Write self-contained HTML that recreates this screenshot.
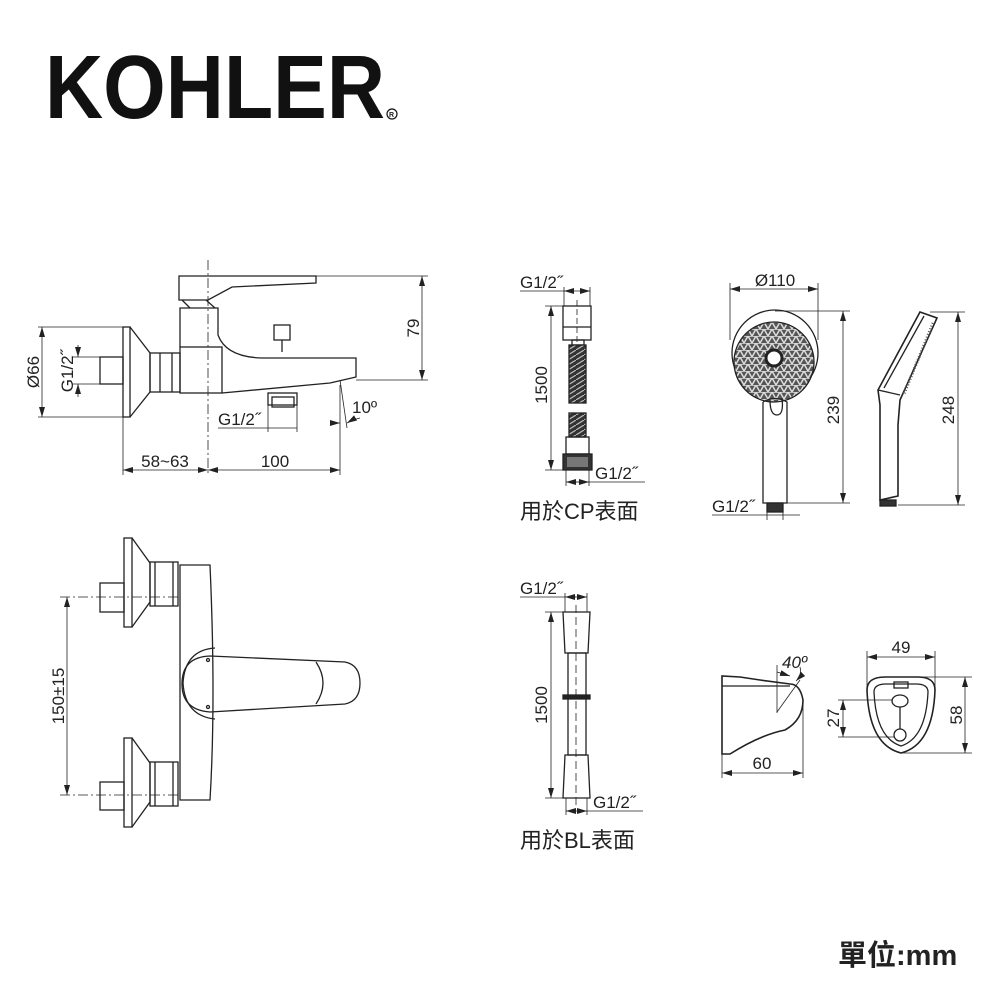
<!DOCTYPE html>
<html><head><meta charset="utf-8"><style>
html,body{margin:0;padding:0;background:#fff}
svg{display:block}
text{font-family:"Liberation Sans","Noto Sans CJK TC",sans-serif;fill:#222}
</style></head><body>
<svg width="1000" height="1000" viewBox="0 0 1000 1000" xmlns="http://www.w3.org/2000/svg">
<defs>
<marker id="a" markerWidth="10" markerHeight="6" refX="10" refY="3" orient="auto-start-reverse" markerUnits="userSpaceOnUse"><path d="M0,0 L10,3 L0,6 z" fill="#222"/></marker>
<pattern id="grid" width="8" height="7" patternUnits="userSpaceOnUse"><rect width="8" height="7" fill="#555"/><path d="M0,7 L4,0 L8,7 M0,0 L8,0" stroke="#ddd" stroke-width="1.5" fill="none"/></pattern>
<pattern id="coil" width="8" height="5" patternUnits="userSpaceOnUse"><rect width="8" height="5" fill="#333"/><path d="M0,5 L8,0" stroke="#bbb" stroke-width="1.2"/></pattern>
</defs>
<!-- Logo -->
<text x="45" y="118" font-size="90" font-weight="bold" textLength="340" lengthAdjust="spacingAndGlyphs" style="fill:#111">KOHLER</text>
<circle cx="392" cy="114" r="5" fill="none" stroke="#111" stroke-width="1.2"/><text x="389" y="117" font-size="7" font-weight="bold">R</text>

<g fill="none" stroke="#222" stroke-width="1.3">
<rect x="123" y="327" width="7" height="90"/>
<path d="M130,327 L150,353 L150,392 L130,417"/>
<rect x="100" y="357" width="23" height="27"/>
<rect x="150" y="353" width="30" height="39"/>
<line x1="160" y1="353" x2="160" y2="392"/><line x1="172" y1="353" x2="172" y2="392"/>
<rect x="180" y="347" width="42" height="46"/>
<path d="M180,347 L180,308 L218,308 L218,335 Q226,357 262,358 L356,358 L356,377 L330,383 L222,393"/>
<path d="M179,276 L316,276 L316,283 L232,287 L208,300 L179,300 Z"/>
<path d="M182,300 L190,308 M206,300 L215,308"/>
<rect x="274" y="325" width="16" height="15"/><line x1="282" y1="340" x2="282" y2="352"/>
<rect x="268" y="393" width="29" height="12"/>
<rect x="272" y="397" width="22" height="10"/>
<rect x="124" y="538" width="8" height="89"/>
<path d="M132,538 L150,563 L150,602 L132,627"/>
<rect x="100" y="583" width="24" height="29"/>
<rect x="150" y="562" width="28" height="44"/><line x1="155" y1="562" x2="155" y2="606"/><line x1="173" y1="562" x2="173" y2="606"/>
<rect x="124" y="738" width="8" height="89"/>
<path d="M132,738 L150,763 L150,802 L132,827"/>
<rect x="100" y="782" width="24" height="28"/>
<rect x="150" y="762" width="28" height="44"/><line x1="155" y1="762" x2="155" y2="806"/><line x1="173" y1="762" x2="173" y2="806"/>
<path d="M180,565 L180,800 L210,800 Q216,700 210,565 Z"/>
<path d="M215,648 Q185,650 183,683 Q185,716 215,719"/>
<path d="M210,656 L345,662 Q360,665 360,683 Q360,701 345,704 L210,712 Q182,710 182,684 Q182,657 210,656 Z"/>
<path d="M316,662 Q330,683 316,704"/>
<circle cx="208" cy="660" r="1.5"/><circle cx="208" cy="707" r="1.5"/>
<rect x="563" y="306" width="28" height="34"/><line x1="563" y1="327" x2="591" y2="327"/>
<rect x="572" y="340" width="12" height="5"/>
<rect x="569" y="345" width="17" height="58" fill="url(#coil)"/>
<rect x="569" y="413" width="17" height="24" fill="url(#coil)"/>
<rect x="566" y="437" width="23" height="17"/>
<rect x="563" y="454" width="29" height="16" fill="#333"/>
<rect x="567" y="457" width="21" height="10" fill="#777" stroke="none"/>
<path d="M563,612 L590,612 L588,653 L565,653 Z"/>
<rect x="568" y="653" width="18" height="102"/>
<rect x="563" y="695" width="27" height="4" fill="#222"/>
<path d="M565,755 L588,755 L590,798 L563,798 Z"/>
<circle cx="775" cy="353" r="43"/>
<circle cx="774" cy="362" r="40" fill="url(#grid)"/>
<circle cx="774" cy="358" r="8" fill="#fff" stroke-width="3"/>
<path d="M763,402 L763,503 L787,503 L787,402 Q775,395 763,402"/>
<path d="M770,400 Q770,415 777,415 Q784,415 782,398"/>
<rect x="767" y="503" width="16" height="9" fill="#333"/>
<path d="M920,312 L937,318 L900,400 L898,425 L898,496 L880,500 L880,405 L878,390 Z" stroke-width="1.6"/>
<path d="M878,390 L900,395 M884,388 L924,316"/>
<rect x="880" y="500" width="16" height="6" fill="#333"/>
<path d="M933,323 L904,394" stroke="#555" stroke-width="3" stroke-dasharray="1 2"/>
<path d="M722,676 L722,754 L730,754 Q760,735 785,730 Q803,720 803,700 Q800,684 790,684 L760,680 L740,677 Z" stroke-width="1.6"/>
<path d="M722,686 L790,686"/>
<path d="M867,690 Q867,677 885,677 L918,677 Q935,677 935,690 Q933,745 901,753 Q869,745 867,690 Z" stroke-width="1.6"/>
<path d="M874,692 Q874,684 886,684 L916,684 Q928,684 928,692 Q926,738 901,746 Q876,738 874,692 Z"/>
<rect x="894" y="682" width="14" height="6"/>
<ellipse cx="900" cy="701" rx="8" ry="6"/><ellipse cx="900" cy="735" rx="6" ry="6"/>
<line x1="900" y1="707" x2="900" y2="729"/>
</g>

<g fill="none" stroke="#222" stroke-width="0.8">
<line x1="42" y1="327" x2="42" y2="417" marker-start="url(#a)" marker-end="url(#a)"/>
<line x1="38" y1="327" x2="123" y2="327"/><line x1="38" y1="417" x2="123" y2="417"/>
<line x1="78" y1="345" x2="78" y2="357" marker-end="url(#a)"/><line x1="78" y1="397" x2="78" y2="384" marker-end="url(#a)"/>
<line x1="72" y1="357" x2="100" y2="357"/><line x1="72" y1="384" x2="100" y2="384"/>
<line x1="316" y1="276" x2="428" y2="276"/><line x1="356" y1="380" x2="428" y2="380"/>
<line x1="422" y1="276" x2="422" y2="380" marker-start="url(#a)" marker-end="url(#a)"/>
<line x1="218" y1="428" x2="297" y2="428"/><line x1="268" y1="405" x2="268" y2="432"/><line x1="297" y1="405" x2="297" y2="432"/>
<line x1="340" y1="380" x2="347" y2="428"/>
<path d="M330,423 L340,423" marker-end="url(#a)"/><path d="M360,418 Q352,420 347,423" marker-end="url(#a)"/>
<line x1="123" y1="417" x2="123" y2="475"/><line x1="340" y1="385" x2="340" y2="475"/>
<line x1="208" y1="260" x2="208" y2="475" stroke-dasharray="10 3 2 3"/>
<line x1="123" y1="470" x2="208" y2="470" marker-start="url(#a)" marker-end="url(#a)"/>
<line x1="208" y1="470" x2="340" y2="470" marker-start="url(#a)" marker-end="url(#a)"/>
<line x1="60" y1="597" x2="180" y2="597" stroke-dasharray="10 3 2 3"/>
<line x1="60" y1="795" x2="180" y2="795" stroke-dasharray="10 3 2 3"/>
<line x1="67" y1="597" x2="67" y2="795" marker-start="url(#a)" marker-end="url(#a)"/>
<line x1="520" y1="291" x2="590" y2="291"/><line x1="564" y1="287" x2="564" y2="306"/><line x1="590" y1="287" x2="590" y2="306"/>
<line x1="574" y1="291" x2="564" y2="291" marker-end="url(#a)"/><line x1="580" y1="291" x2="590" y2="291" marker-end="url(#a)"/>
<line x1="545" y1="306" x2="563" y2="306"/><line x1="545" y1="470" x2="563" y2="470"/>
<line x1="551" y1="306" x2="551" y2="470" marker-start="url(#a)" marker-end="url(#a)"/>
<line x1="566" y1="482" x2="645" y2="482"/><line x1="566" y1="470" x2="566" y2="486"/><line x1="589" y1="470" x2="589" y2="486"/>
<line x1="577" y1="482" x2="566" y2="482" marker-end="url(#a)"/><line x1="578" y1="482" x2="589" y2="482" marker-end="url(#a)"/>
<line x1="577" y1="300" x2="577" y2="345" stroke-dasharray="6 3"/>
<line x1="520" y1="597" x2="587" y2="597"/><line x1="565" y1="593" x2="565" y2="612"/><line x1="587" y1="593" x2="587" y2="612"/>
<line x1="576" y1="597" x2="565" y2="597" marker-end="url(#a)"/><line x1="577" y1="597" x2="587" y2="597" marker-end="url(#a)"/>
<line x1="545" y1="612" x2="563" y2="612"/><line x1="545" y1="798" x2="563" y2="798"/>
<line x1="551" y1="612" x2="551" y2="798" marker-start="url(#a)" marker-end="url(#a)"/>
<line x1="566" y1="811" x2="643" y2="811"/><line x1="566" y1="798" x2="566" y2="815"/><line x1="587" y1="798" x2="587" y2="815"/>
<line x1="576" y1="811" x2="566" y2="811" marker-end="url(#a)"/><line x1="577" y1="811" x2="587" y2="811" marker-end="url(#a)"/>
<line x1="576" y1="605" x2="576" y2="805" stroke-dasharray="8 4"/>
<line x1="730" y1="289" x2="818" y2="289" marker-start="url(#a)" marker-end="url(#a)"/>
<line x1="730" y1="283" x2="730" y2="340"/><line x1="818" y1="283" x2="818" y2="340"/>
<line x1="775" y1="311" x2="850" y2="311"/><line x1="787" y1="503" x2="850" y2="503"/>
<line x1="843" y1="311" x2="843" y2="503" marker-start="url(#a)" marker-end="url(#a)"/>
<line x1="712" y1="515" x2="800" y2="515"/><line x1="767" y1="508" x2="767" y2="520"/><line x1="783" y1="508" x2="783" y2="520"/>
<line x1="930" y1="312" x2="965" y2="312"/><line x1="898" y1="505" x2="965" y2="505"/>
<line x1="958" y1="312" x2="958" y2="505" marker-start="url(#a)" marker-end="url(#a)"/>
<line x1="722" y1="754" x2="722" y2="778"/><line x1="803" y1="705" x2="803" y2="778"/>
<line x1="722" y1="773" x2="803" y2="773" marker-start="url(#a)" marker-end="url(#a)"/>
<line x1="777" y1="713" x2="777" y2="665"/><line x1="777" y1="712" x2="800" y2="680"/>
<path d="M777,672 L790,676" marker-end="url(#a)"/><path d="M800,667 Q802,675 796,681" marker-end="url(#a)"/>
<line x1="867" y1="651" x2="867" y2="690"/><line x1="935" y1="651" x2="935" y2="690"/>
<line x1="867" y1="657" x2="935" y2="657" marker-start="url(#a)" marker-end="url(#a)"/>
<line x1="918" y1="677" x2="972" y2="677"/><line x1="901" y1="753" x2="972" y2="753"/>
<line x1="965" y1="677" x2="965" y2="753" marker-start="url(#a)" marker-end="url(#a)"/>
<line x1="838" y1="700" x2="893" y2="700"/><line x1="838" y1="737" x2="894" y2="737"/>
<line x1="843" y1="700" x2="843" y2="737" marker-start="url(#a)" marker-end="url(#a)"/>
</g>

<g font-size="17">
<text transform="translate(39,372) rotate(-90)" text-anchor="middle">Ø66</text>
<text transform="translate(73,371) rotate(-90)" text-anchor="middle">G1/2˝</text>
<text transform="translate(419,328) rotate(-90)" text-anchor="middle">79</text>
<text x="218" y="425">G1/2˝</text>
<text x="352" y="413">10º</text>
<text x="165" y="467" text-anchor="middle">58~63</text>
<text x="275" y="467" text-anchor="middle">100</text>
<text transform="translate(64,696) rotate(-90)" text-anchor="middle">150±15</text>
<text x="520" y="288">G1/2˝</text>
<text transform="translate(547,385) rotate(-90)" text-anchor="middle">1500</text>
<text x="595" y="479">G1/2˝</text>
<text x="520" y="594">G1/2˝</text>
<text transform="translate(547,705) rotate(-90)" text-anchor="middle">1500</text>
<text x="593" y="808">G1/2˝</text>
<text x="775" y="286" text-anchor="middle">Ø110</text>
<text transform="translate(839,410) rotate(-90)" text-anchor="middle">239</text>
<text x="712" y="512">G1/2˝</text>
<text transform="translate(954,410) rotate(-90)" text-anchor="middle">248</text>
<text x="782" y="668" font-style="italic">40º</text>
<text x="762" y="769" text-anchor="middle">60</text>
<text x="901" y="653" text-anchor="middle">49</text>
<text transform="translate(839,718) rotate(-90)" text-anchor="middle">27</text>
<text transform="translate(962,715) rotate(-90)" text-anchor="middle">58</text>
</g>
<text x="520" y="519" font-size="22">用於CP表面</text>
<text x="520" y="848" font-size="22">用於BL表面</text>
<text x="838" y="965" font-size="29" font-weight="bold">單位:mm</text>
</svg>
</body></html>
